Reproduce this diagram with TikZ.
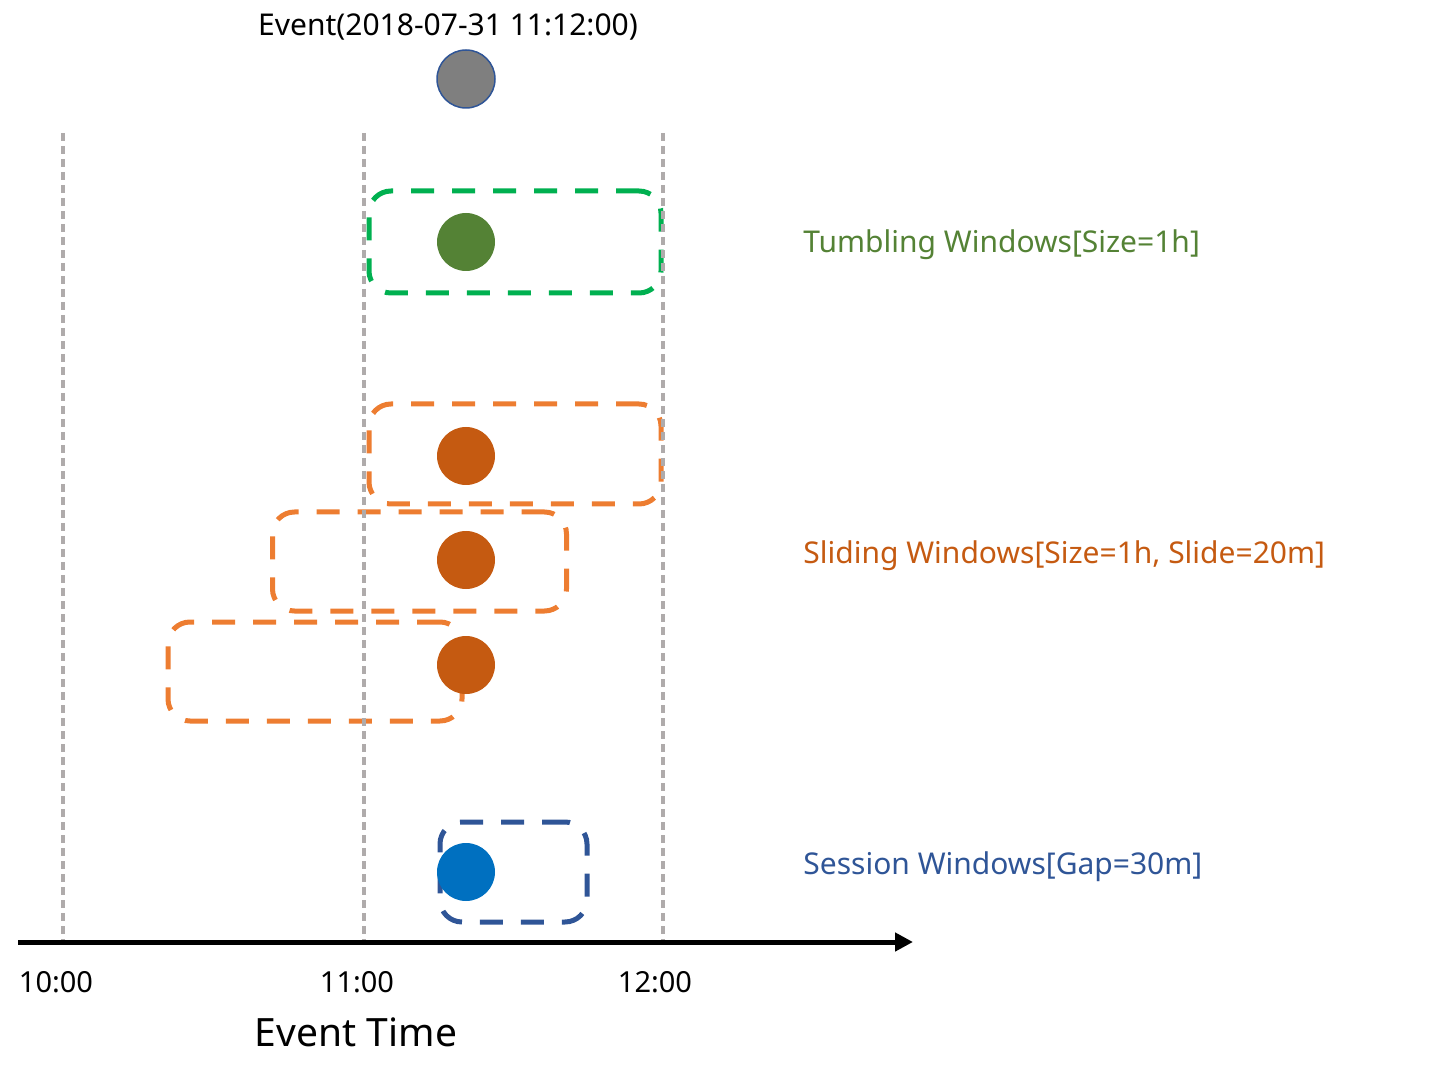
\documentclass[tikz,border=0pt]{standalone}
\usepackage{fontspec}
\setmainfont{Noto Sans}
\usetikzlibrary{arrows.meta}
\definecolor{tgreen}{HTML}{00B050}
\definecolor{dgreen}{HTML}{548235}
\definecolor{lorange}{HTML}{ED7D31}
\definecolor{dorange}{HTML}{C55A11}
\definecolor{sblue}{HTML}{2F5597}
\definecolor{cblue}{HTML}{0070C0}
\definecolor{ggray}{HTML}{AFABAB}
\definecolor{egray}{HTML}{7F7F7F}
\begin{document}
\begin{tikzpicture}[x=0.5pt,y=-0.5pt,
  winbox/.style={draw, line width=2.5pt, rounded corners=11pt, dash pattern=on 11.5pt off 9pt, inner sep=0pt, minimum width=#1},
  winh/.style={minimum height=#1},
  dot/.style={circle, inner sep=0pt, minimum size=29pt, fill=#1},
  grid/.style={draw=ggray, line width=1.6pt, dash pattern=on 4pt off 2.5pt},
  lbl/.style={font=\fontsize{15}{18}\selectfont, inner sep=0pt},
  tick/.style={font=\fontsize{14.5}{17}\selectfont, inner sep=0pt}]
\useasboundingbox (0,0) rectangle (1450,1079);

% windows
\node[winbox=146pt, winh=51pt, draw=tgreen] (tw) at (515,242) {};
\node[winbox=146pt, winh=50pt, draw=lorange] (sw1) at (515,454) {};
\node[winbox=147pt, winh=49.5pt, draw=lorange] (sw2) at (419.5,561.5) {};
\node[winbox=147pt, winh=49.5pt, draw=lorange] (sw3) at (315,671.5) {};
\node[winbox=73.5pt, winh=50pt, draw=sblue] (ssw) at (513.5,872) {};

% grid lines
\coordinate (g1t) at (63,133);  \coordinate (g1b) at (63,942);
\coordinate (g2t) at (364,133); \coordinate (g2b) at (364,942);
\coordinate (g3t) at (663,133); \coordinate (g3b) at (663,942);
\draw[grid] (g1t) -- (g1b);
\draw[grid] (g2t) -- (g2b);
\draw[grid] (g3t) -- (g3b);

% axis
\coordinate (ax0) at (18,942);
\coordinate (ax1) at (913,942);
\draw[line width=2.5pt, -{Triangle[length=9pt,width=9pt]}] (ax0) -- (ax1);

% events
\node[dot=egray, draw=sblue, line width=0.75pt] (ev) at (466,79) {};
\node[dot=dgreen] (e1) at (466,242) {};
\node[dot=dorange] (e2) at (466,456) {};
\node[dot=dorange] (e3) at (466,560) {};
\node[dot=dorange] (e4) at (466,665) {};
\node[dot=cblue] (e5) at (466,872) {};

% texts
\node[lbl] (evl) at (448,27) {Event(2018-07-31 11:12:00)};
\node[lbl, anchor=west, text=dgreen] (tl) at (803,245) {Tumbling Windows[Size=1h]};
\node[lbl, anchor=west, text=dorange] (sl) at (803,556) {Sliding Windows[Size=1h, Slide=20m]};
\node[lbl, anchor=west, text=sblue] (ssl) at (803,867) {Session Windows[Gap=30m]};
\node[tick] (t10) at (56,982) {10:00};
\node[tick] (t11) at (357,982) {11:00};
\node[tick] (t12) at (655,982) {12:00};
\node[font=\fontsize{19.5}{23}\selectfont, inner sep=0pt] (etl) at (356,1032) {Event Time};
\end{tikzpicture}
\end{document}
